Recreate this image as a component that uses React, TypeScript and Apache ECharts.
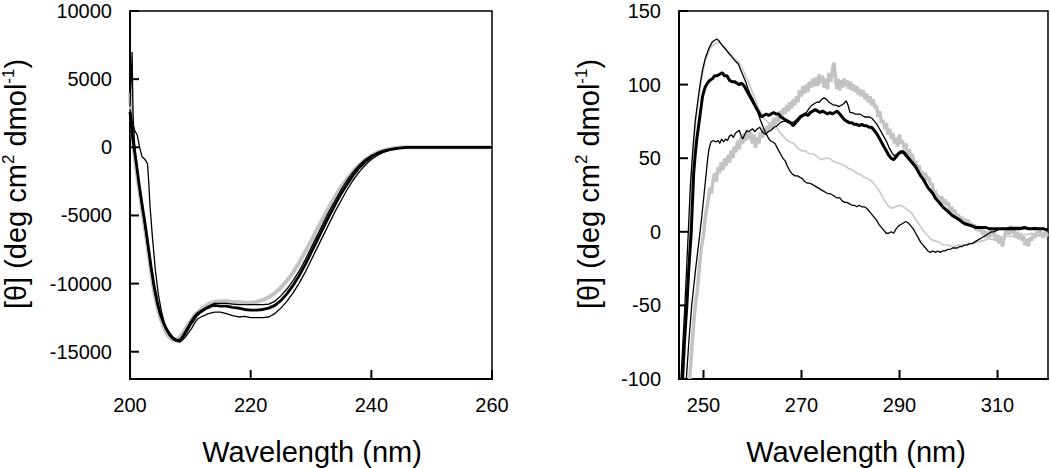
import React, { useEffect, useRef } from "react";
import * as echarts from "echarts";

// ---------- Left panel (far-UV CD), wavelength nm vs [θ] ----------
const farXMin = 200;
const farXMax = 260;
const farYMin = -17000;
const farYMax = 10000;
const farTicksX = [200, 220, 240, 260];
const farTicksY = [-15000, -10000, -5000, 0, 5000, 10000];

const farGray: [number, number][] = [
  [200, 4000], [200.5, 500], [201, -1500], [201.5, -3000], [202, -4600], [202.5, -6000], [203, -7600],
  [203.5, -9200], [204, -10600], [204.5, -11700], [205, -12500], [205.5, -13100], [206, -13600],
  [206.5, -13900], [207, -14100], [207.5, -14150], [208, -14050], [208.5, -13800], [209, -13500],
  [209.5, -13100], [210, -12800], [210.5, -12500], [211, -12200], [212, -11800], [213, -11500],
  [214, -11350], [215, -11300], [216, -11300], [217, -11350], [218, -11350], [219, -11400], [220, -11400],
  [221, -11350], [222, -11200], [223, -11000], [224, -10700], [225, -10300], [226, -9800], [227, -9200],
  [228, -8500], [229, -7700], [230, -6900], [231, -6000], [232, -5200], [233, -4400], [234, -3600],
  [235, -2900], [236, -2300], [237, -1750], [238, -1300], [239, -900], [240, -600], [241, -380],
  [242, -230], [243, -120], [244, -50], [245, 0], [250, 0], [255, 0], [260, 0],
];

const farThinA: [number, number][] = [
  [200, 3000], [200.2, 5000], [200.35, 7000], [200.5, 2500], [200.7, 600], [201, -1000], [201.5, -2700],
  [202, -4400], [202.5, -5900], [203, -7400], [203.5, -9000], [204, -10400], [204.5, -11500],
  [205, -12300], [205.5, -12900], [206, -13400], [206.5, -13800], [207, -14050], [207.5, -14200],
  [208, -14250], [208.5, -14000], [209, -13600], [209.5, -13200], [210, -12800], [210.5, -12450],
  [211, -12200], [212, -11900], [213, -11650], [214, -11450], [215, -11450], [216, -11450],
  [217, -11500], [218, -11550], [219, -11550], [220, -11550], [221, -11550], [222, -11550],
  [223, -11500], [224, -11300], [225, -10900], [226, -10400], [227, -9800], [228, -9100], [229, -8300],
  [230, -7400], [231, -6500], [232, -5600], [233, -4700], [234, -3900], [235, -3100], [236, -2400],
  [237, -1800], [238, -1300], [239, -900], [240, -600], [241, -400], [242, -250], [243, -150],
  [244, -70], [245, -20], [246, 0], [250, 0], [255, 0], [260, 0],
];

const farThinB: [number, number][] = [
  [200, 2800], [200.4, 1800], [200.8, 1200], [201.2, 900], [201.6, 0], [202, -700], [202.5, -900],
  [202.9, -1200], [203.1, -2500], [203.3, -4200], [203.7, -6500], [204.2, -9000], [204.7, -10800],
  [205.2, -12000], [205.7, -12900], [206.2, -13500], [206.7, -13800], [207.2, -14000], [207.7, -14200],
  [208.2, -14300], [208.7, -14150], [209.2, -13900], [209.7, -13600], [210.2, -13300], [210.7, -12900],
  [211.2, -12600], [212, -12400], [213, -12200], [214, -12100], [215, -12100], [216, -12200],
  [217, -12350], [218, -12450], [219, -12400], [220, -12500], [221, -12500], [222, -12500],
  [223, -12450], [224, -12200], [225, -11800], [226, -11300], [227, -10700], [228, -10000],
  [229, -9200], [230, -8300], [231, -7400], [232, -6500], [233, -5600], [234, -4700], [235, -3900],
  [236, -3100], [237, -2400], [238, -1800], [239, -1300], [240, -900], [241, -600], [242, -380],
  [243, -220], [244, -110], [245, -50], [246, -10], [247, 0], [252, 0], [256, 0], [260, 0],
];

const farThick: [number, number][] = [
  [200, 2600], [200.3, 1200], [200.6, 200], [201, -1000], [201.5, -2700], [202, -4200], [202.5, -5600],
  [203, -7200], [203.5, -8800], [204, -10200], [204.5, -11300], [205, -12200], [205.5, -12800],
  [206, -13300], [206.5, -13650], [207, -13950], [207.5, -14100], [208, -14200], [208.5, -14050],
  [209, -13750], [209.5, -13400], [210, -13000], [210.5, -12700], [211, -12350], [211.5, -12150],
  [212, -12000], [212.5, -11850], [213, -11750], [213.5, -11650], [214, -11600], [215, -11650],
  [216, -11650], [217, -11750], [218, -11800], [219, -11900], [220, -11950], [221, -11950],
  [222, -11900], [223, -11800], [224, -11600], [225, -11250], [226, -10750], [227, -10150],
  [228, -9450], [229, -8650], [230, -7750], [231, -6850], [232, -5950], [233, -5050], [234, -4200],
  [235, -3400], [236, -2700], [237, -2050], [238, -1500], [239, -1050], [240, -700], [241, -450],
  [242, -280], [243, -170], [244, -90], [245, -40], [246, 0], [250, 0], [255, 0], [260, 0],
];

// ---------- Right panel (near-UV CD) ----------
const nearXMin = 245;
const nearXMax = 320.3;
const nearYMin = -100;
const nearYMax = 150;
const nearTicksX = [250, 270, 290, 310];
const nearTicksY = [-100, -50, 0, 50, 100, 150];

const nearGrayThick: [number, number][] = [
  [247.2, -100], [247.6, -80], [248, -62], [248.4, -48], [248.8, -38], [249.2, -22], [249.6, -10],
  [250, -2], [250.3, 8], [250.6, 15], [251, 22], [251.3, 30], [251.6, 26], [252, 36], [252.3, 40],
  [252.6, 34], [253, 44], [253.3, 40], [253.6, 47], [254, 42], [254.3, 50], [254.6, 45], [255, 52],
  [255.3, 47], [255.6, 55], [256, 50], [256.3, 58], [256.6, 54], [257, 62], [257.3, 56], [257.6, 64],
  [258, 60], [258.3, 67], [258.6, 62], [259, 68], [259.3, 63], [259.6, 68], [260, 60], [260.3, 66],
  [260.6, 57], [261, 64], [261.3, 60], [261.6, 68], [262, 64], [262.3, 70], [262.6, 66], [263, 72],
  [263.3, 68], [263.6, 74], [264, 70], [264.3, 77], [264.6, 73], [265, 78], [265.3, 75], [265.6, 82],
  [266, 78], [266.3, 84], [266.6, 80], [267, 86], [267.3, 82], [267.6, 88], [268, 84], [268.3, 90],
  [268.6, 86], [269, 92], [269.3, 88], [269.6, 96], [270, 92], [270.3, 99], [270.6, 94], [271, 100],
  [271.3, 95], [271.6, 102], [272, 98], [272.3, 104], [272.6, 99], [273, 105], [273.3, 99],
  [273.6, 107], [274, 101], [274.3, 106], [274.6, 98], [275, 104], [275.3, 97], [275.6, 108],
  [276, 102], [276.3, 110], [276.6, 115], [276.9, 106], [277.2, 97], [277.5, 104], [277.8, 96],
  [278.1, 103], [278.4, 98], [278.7, 104], [279, 99], [279.3, 103], [279.6, 97], [280, 102],
  [280.3, 96], [280.6, 100], [281, 95], [281.3, 99], [281.6, 93], [282, 97], [282.3, 92], [282.6, 96],
  [283, 90], [283.3, 94], [283.6, 88], [284, 92], [284.3, 86], [284.6, 90], [285, 84], [285.3, 86],
  [285.6, 78], [286, 82], [286.3, 74], [286.6, 76], [287, 70], [287.3, 74], [287.6, 66], [288, 70],
  [288.3, 63], [288.6, 67], [289, 60], [289.3, 64], [289.6, 58], [290, 66], [290.3, 60], [290.6, 62],
  [291, 56], [291.3, 60], [291.6, 52], [292, 56], [292.3, 50], [292.6, 53], [293, 46], [293.3, 48],
  [293.6, 42], [294, 45], [294.3, 39], [294.6, 41], [295, 38], [295.3, 40], [295.6, 35], [296, 37],
  [296.3, 32], [296.6, 33], [297, 27], [297.3, 28], [297.6, 24], [298, 24], [298.3, 20], [298.6, 24],
  [299, 19], [299.3, 22], [299.6, 18], [300, 20], [300.3, 14], [300.6, 17], [301, 13], [301.3, 15],
  [301.6, 10], [302, 12], [302.3, 8], [302.6, 10], [303, 7], [303.3, 9], [303.6, 6], [304, 8],
  [304.3, 4], [304.6, 6], [305, 3], [305.3, 5], [305.6, 1], [306, 4], [306.3, 0], [306.6, 3],
  [307, -2], [307.3, 1], [307.6, -4], [308, 0], [308.3, -4], [308.6, 2], [309, -3], [309.3, 1],
  [309.6, -6], [310, -2], [310.3, -8], [310.6, -3], [311, -10], [311.3, -5], [311.6, -1], [312, 3],
  [312.3, -2], [312.6, 4], [313, -1], [313.3, 2], [313.6, -4], [314, 0], [314.3, -5], [314.6, -1],
  [315, -6], [315.3, -3], [315.6, -9], [316, -5], [316.3, -10], [316.6, -4], [317, -6], [317.3, -1],
  [317.6, -4], [318, 0], [318.3, -3], [318.6, 1], [319, -2], [319.3, -4], [319.6, 0], [320, -2],
  [320.3, -3],
];

const nearGrayThin: [number, number][] = [
  [246, -100], [246.6, -50], [247.2, 0], [247.6, 40], [248.4, 75], [249.4, 100], [250.4, 117],
  [251.4, 125], [252.4, 128], [253.2, 129], [253.8, 127], [254.6, 124], [255.4, 121], [256.2, 118],
  [257, 116], [257.8, 112], [258.6, 106], [259.4, 100], [260.2, 93], [261, 86], [261.8, 80],
  [262.6, 76], [263.4, 74], [264.2, 73], [264.8, 72], [265.4, 68], [266, 66], [266.8, 63],
  [267.6, 61], [268.4, 60], [269.2, 57], [270, 55], [270.8, 55], [271.6, 53], [272.4, 53],
  [273.2, 51], [274, 49], [274.8, 50], [275.6, 50], [276.4, 48], [277.2, 47], [278, 46], [278.8, 45],
  [279.6, 43], [280.4, 42], [281.2, 40], [282, 39], [282.8, 37], [283.6, 36], [284.4, 34],
  [285.2, 31], [286, 27], [286.8, 22], [287.6, 18], [288.4, 16], [289.2, 17], [290, 18], [290.8, 17],
  [291.6, 15], [292.4, 13], [293.2, 9], [294, 5], [294.8, 1], [295.6, -2], [296.4, -5], [297.2, -6],
  [298, -7], [299, -9], [300, -9], [301, -10], [302, -9], [303, -9], [304, -8], [305, -8], [306, -7],
  [307, -6], [308, -5], [309, -5], [310, -4], [311, -4], [312, -3], [313, -3], [314, -2], [315, -2],
  [316, -2], [317, -1], [318, -2], [319, -1], [320.3, -1],
];

const nearThinPeak: [number, number][] = [
  [245.4, -100], [246.2, -50], [246.9, 0], [247.3, 30], [247.8, 55], [248.3, 75], [248.8, 88],
  [249.3, 100], [249.8, 110], [250.3, 117], [250.8, 122], [251.3, 126], [251.8, 129], [252.2, 130],
  [252.7, 131], [253.1, 130], [253.5, 128], [254, 126], [254.5, 124], [255, 122], [255.5, 120],
  [256, 118], [256.5, 116], [257.1, 114], [257.6, 110], [258.1, 106], [258.6, 102], [259.1, 97],
  [259.6, 93], [260.1, 90], [260.5, 87], [261, 82], [261.6, 76], [262.2, 71], [262.7, 67],
  [263.2, 64], [263.6, 62], [264.1, 61], [264.6, 60], [265.2, 56], [265.7, 53], [266.2, 50],
  [266.7, 48], [267.2, 44], [267.7, 41], [268.2, 39], [268.7, 38], [269.2, 38], [269.7, 37],
  [270.2, 36], [270.7, 34], [271.2, 33], [271.7, 33], [272.3, 32], [272.8, 31], [273.3, 30],
  [273.8, 29], [274.3, 28], [274.8, 27], [275.3, 26], [275.8, 26], [276.3, 25], [276.8, 24],
  [277.3, 23], [277.8, 23], [278.3, 21], [278.8, 20], [279.3, 20], [279.8, 19], [280.3, 18],
  [280.8, 18], [281.3, 17], [281.8, 18], [282.3, 17], [282.8, 17], [283.3, 16], [283.8, 14],
  [284.3, 12], [284.8, 10], [285.3, 8], [285.8, 5], [286.3, 3], [286.8, 1], [287.3, -1], [287.8, -1],
  [288.3, 0], [288.8, -1], [289.3, 2], [289.8, 4], [290.3, 5], [290.8, 6], [291.3, 7], [291.8, 6],
  [292.3, 4], [292.8, 2], [293.3, -1], [293.8, -4], [294.3, -7], [294.8, -9], [295.3, -11],
  [295.8, -13], [296.3, -14], [296.8, -13], [297.3, -14], [297.8, -13], [298.3, -14], [298.8, -13],
  [299.3, -13], [299.8, -12], [300.3, -12], [300.8, -11], [301.3, -11], [301.8, -11], [302.3, -10],
  [302.8, -10], [303.3, -9], [303.8, -9], [304.3, -8], [304.8, -8], [305.3, -7], [305.8, -6],
  [306.3, -5], [306.8, -4], [307.3, -3], [307.8, -2], [308.3, -1], [308.8, 0], [309.3, 0],
  [309.8, 1], [310.5, 2], [311.5, 2], [312.5, 3], [313.5, 3], [314.5, 3], [315.5, 3], [316.5, 2],
  [317.5, 3], [318.5, 2], [319.5, 2], [320.3, 2],
];

const nearThinLow: [number, number][] = [
  [246.5, -100], [247, -75], [247.6, -50], [248.4, -25], [249.3, 0], [249.7, 12], [250.1, 25],
  [250.5, 38], [250.8, 48], [251.1, 56], [251.5, 61], [252, 62], [252.5, 61], [253, 62], [253.3, 60],
  [253.7, 63], [254.1, 61], [254.5, 63], [254.9, 62], [255.3, 65], [255.7, 66], [256.1, 64],
  [256.5, 67], [256.9, 68], [257.3, 69], [257.7, 65], [258, 63], [258.4, 66], [258.8, 69],
  [259.2, 68], [259.6, 69], [260, 70], [260.5, 68], [261, 70], [261.5, 71], [262, 68], [262.6, 66],
  [263.2, 68], [263.8, 69], [264.4, 71], [265, 72], [265.6, 74], [266.2, 75], [266.8, 75],
  [267.4, 74], [268, 74], [268.6, 75], [269.2, 77], [269.8, 79], [270.4, 80], [271, 81], [271.6, 84],
  [272.1, 86], [272.6, 87], [273.1, 88], [273.6, 88], [274.1, 90], [274.6, 91], [275.1, 90],
  [275.6, 88], [276.1, 87], [276.6, 86], [277.1, 86], [277.6, 85], [278.1, 86], [278.6, 87],
  [279.1, 89], [279.5, 86], [279.9, 81], [280.4, 81], [280.9, 80], [281.4, 80], [281.9, 80],
  [282.4, 79], [282.9, 78], [283.4, 78], [283.9, 78], [284.4, 77], [284.9, 75], [285.4, 73],
  [285.9, 70], [286.4, 67], [286.9, 64], [287.4, 61], [287.9, 57], [288.4, 54], [288.8, 52],
  [289.3, 52], [289.8, 54], [290.3, 55], [290.8, 55], [291.3, 53], [291.8, 51], [292.3, 49],
  [292.8, 47], [293.3, 45], [293.8, 42], [294.3, 38], [294.8, 35], [295.3, 33], [295.8, 30],
  [296.3, 28], [296.8, 26], [297.3, 23], [297.8, 21], [298.3, 19], [298.8, 17], [299.3, 15],
  [299.8, 14], [300.5, 12], [301.5, 9], [302.5, 7], [303.5, 5], [304.5, 4], [305.5, 3], [307, 3],
  [309, 2], [311, 2], [313, 2], [315, 2], [317, 2], [319, 2], [320.3, 2],
];

const nearThick: [number, number][] = [
  [245.7, -100], [246.1, -75], [246.6, -50], [247, -25], [247.5, 0], [248, 40], [248.3, 52],
  [248.6, 62], [249, 72], [249.4, 82], [249.8, 92], [250.3, 98], [250.8, 101], [251.3, 103],
  [251.8, 104], [252.3, 106], [252.8, 106], [253.3, 107], [253.8, 108], [254.3, 106], [254.8, 106],
  [255.3, 103], [255.8, 102], [256.3, 102], [256.8, 101], [257.3, 100], [257.8, 101], [258.3, 99],
  [258.8, 96], [259.3, 93], [259.8, 90], [260.3, 87], [260.8, 84], [261.3, 81], [261.8, 78],
  [262.3, 79], [262.8, 80], [263.3, 79], [263.8, 80], [264.3, 81], [264.8, 80], [265.3, 80],
  [265.8, 78], [266.3, 77], [266.8, 76], [267.3, 75], [267.8, 74], [268.3, 72], [268.8, 74],
  [269.3, 76], [269.8, 78], [270.3, 79], [270.8, 80], [271.3, 79], [271.8, 81], [272.3, 82],
  [272.8, 83], [273.3, 82], [273.8, 81], [274.3, 82], [274.8, 81], [275.3, 80], [275.8, 81],
  [276.3, 80], [276.8, 81], [277.3, 82], [277.8, 80], [278.3, 78], [278.8, 76], [279.3, 75],
  [279.8, 74], [280.3, 74], [280.8, 73], [281.3, 73], [281.8, 72], [282.3, 73], [282.8, 72],
  [283.3, 72], [283.8, 71], [284.3, 71], [284.8, 69], [285.3, 67], [285.8, 64], [286.3, 61],
  [286.8, 58], [287.3, 55], [287.8, 52], [288.3, 50], [288.8, 49], [289.3, 51], [289.8, 53],
  [290.3, 54], [290.8, 54], [291.3, 52], [291.8, 50], [292.3, 48], [292.8, 46], [293.3, 44],
  [293.8, 41], [294.3, 38], [294.8, 36], [295.3, 33], [295.8, 30], [296.3, 28], [296.8, 26],
  [297.3, 23], [297.8, 21], [298.3, 19], [298.8, 17], [299.3, 15.5], [299.8, 14], [300.3, 12.5],
  [300.8, 11], [301.3, 10], [301.8, 9], [302.3, 8], [302.8, 6.5], [303.3, 5.5], [303.8, 5],
  [304.3, 4.5], [304.8, 4], [305.5, 3], [306.5, 3], [307.5, 3], [308.5, 2], [309.5, 2], [310.5, 2],
  [311.5, 2], [312.5, 2], [313.5, 2], [314.5, 2], [315.5, 3], [316.5, 2], [317.5, 2], [318.5, 2],
  [319.5, 2], [320.3, 1],
];

const xTitle = "Wavelength (nm)";
const yTitleRich = "{n|[θ] (deg cm}{s|2}{n| dmol}{s|-1}{n|)}";

const FONT = "'Liberation Sans', Arial, Helvetica, sans-serif";
const GRAY = "#c3c3c3";
const TICK_LEN = 9;

function line(data: [number, number][], idx: number, color: string, width: number) {
  return {
    type: "line",
    xAxisIndex: idx,
    yAxisIndex: idx,
    data,
    showSymbol: false,
    lineStyle: { color, width },
  };
}

// Inward tick marks, positioned through the axes' own scale (api.coord).
function tickSeries(idx: number, pts: [number, number][], dx: number, dy: number) {
  return {
    type: "custom",
    xAxisIndex: idx,
    yAxisIndex: idx,
    data: pts,
    silent: true,
    clip: false,
    z: 6,
    renderItem: (_params: any, api: any) => {
      const p = api.coord([api.value(0), api.value(1)]);
      return {
        type: "line",
        shape: { x1: p[0], y1: p[1], x2: p[0] + dx, y2: p[1] + dy },
        style: { stroke: "#000", lineWidth: 2 },
      };
    },
  };
}

function axisCfg(gridIndex: number, min: number, max: number, ticks: number[], margin: number) {
  return {
    type: "value",
    gridIndex,
    min,
    max,
    axisLine: { show: true, onZero: false, lineStyle: { color: "#000", width: 2 } },
    axisTick: { show: false },
    splitLine: { show: false },
    axisLabel: {
      customValues: ticks,
      color: "#000",
      fontSize: 20,
      fontFamily: FONT,
      margin,
      formatter: (v: number) => String(v),
    },
  };
}

function yTitle(x: number, y: number) {
  return {
    type: "text",
    x,
    y,
    rotation: Math.PI / 2,
    silent: true,
    style: {
      text: yTitleRich,
      align: "center",
      verticalAlign: "middle",
      fill: "#000",
      rich: {
        n: { fontSize: 29, fontFamily: FONT, lineHeight: 32, fill: "#000" },
        s: { fontSize: 17, fontFamily: FONT, lineHeight: 17, verticalAlign: "top", fill: "#000" },
      },
    },
  };
}

function xTitleEl(x: number, y: number) {
  return {
    type: "text",
    x,
    y,
    silent: true,
    style: {
      text: xTitle,
      align: "center",
      verticalAlign: "middle",
      fill: "#000",
      fontSize: 29,
      fontFamily: FONT,
    },
  };
}

export default function App() {
  const ref = useRef<HTMLDivElement>(null);

  useEffect(() => {
    if (!ref.current) return;
    const chart = echarts.init(ref.current, undefined, { renderer: "svg" });
    chart.setOption({
      animation: false,
      grid: [
        { left: 130, right: 558, top: 11, bottom: 89, show: true, borderColor: "#000", borderWidth: 1.5 },
        { left: 679, right: 2, top: 11, bottom: 89, show: true, borderColor: "#000", borderWidth: 1.5 },
      ],
      xAxis: [
        axisCfg(0, farXMin, farXMax, farTicksX, 16),
        axisCfg(1, nearXMin, nearXMax, nearTicksX, 16),
      ],
      yAxis: [
        axisCfg(0, farYMin, farYMax, farTicksY, 18),
        axisCfg(1, nearYMin, nearYMax, nearTicksY, 18),
      ],
      series: [
        line(farGray, 0, GRAY, 4),
        line(farThinB, 0, "#000", 1.3),
        line(farThinA, 0, "#000", 1.3),
        line(farThick, 0, "#000", 2.8),
        line(nearGrayThick, 1, GRAY, 3.5),
        line(nearGrayThin, 1, "#c8c8c8", 1.6),
        line(nearThinPeak, 1, "#000", 1.3),
        line(nearThinLow, 1, "#000", 1.3),
        line(nearThick, 1, "#000", 3),
        tickSeries(0, farTicksX.map((v) => [v, farYMin] as [number, number]), 0, -TICK_LEN),
        tickSeries(0, farTicksY.map((v) => [farXMin, v] as [number, number]), TICK_LEN, 0),
        tickSeries(1, nearTicksX.map((v) => [v, nearYMin] as [number, number]), 0, -TICK_LEN),
        tickSeries(1, nearTicksY.map((v) => [nearXMin, v] as [number, number]), TICK_LEN, 0),
      ],
      graphic: [yTitle(16, 184), yTitle(589, 184), xTitleEl(312, 452), xTitleEl(856, 452)],
    });
    return () => chart.dispose();
  }, []);

  return (
    <div
      ref={ref}
      style={{ position: "absolute", left: 0, top: 0, width: 1050, height: 468, background: "#fff" }}
    />
  );
}
